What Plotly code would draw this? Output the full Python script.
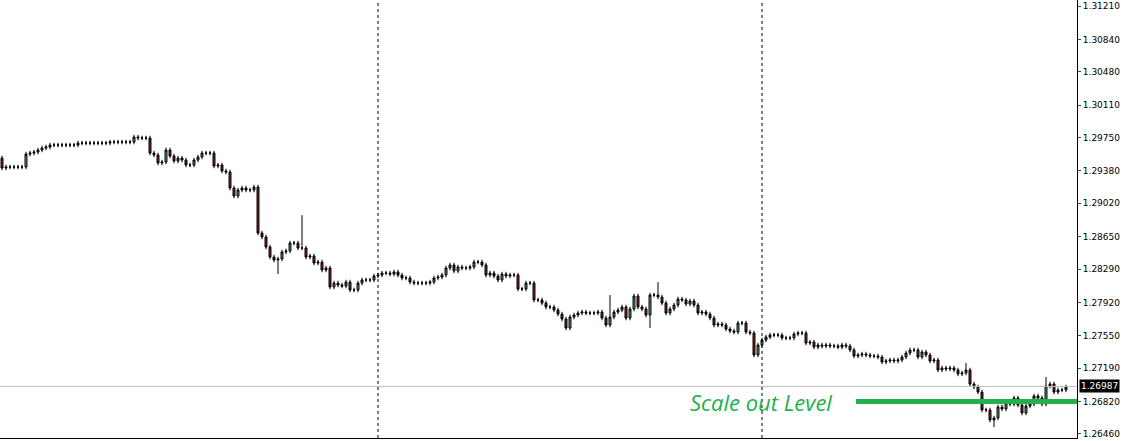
import plotly.graph_objects as go

# closing prices, one per bar (open = previous close)
close = [
    1.29412, 1.29423, 1.29423, 1.29423, 1.29423, 1.29423, 1.29567, 1.29578, 1.29589, 1.29612,
    1.29634, 1.29645, 1.29667, 1.29667, 1.29667, 1.29667, 1.29667, 1.29667, 1.29667, 1.29689,
    1.29689, 1.29689, 1.29689, 1.29689, 1.29689, 1.29689, 1.29689, 1.29700, 1.29700, 1.29700,
    1.29700, 1.29700, 1.29700, 1.29756, 1.29745, 1.29745, 1.29745, 1.29578, 1.29556, 1.29468,
    1.29479, 1.29612, 1.29545, 1.29490, 1.29523, 1.29501, 1.29445, 1.29445, 1.29501, 1.29534,
    1.29578, 1.29578, 1.29578, 1.29434, 1.29445, 1.29379, 1.29368, 1.29190, 1.29101, 1.29168,
    1.29190, 1.29168, 1.29168, 1.29201, 1.28690, 1.28646, 1.28535, 1.28424, 1.28391, 1.28402,
    1.28480, 1.28491, 1.28579, 1.28579, 1.28524, 1.28524, 1.28424, 1.28435, 1.28357, 1.28368,
    1.28280, 1.28302, 1.28091, 1.28135, 1.28113, 1.28102, 1.28146, 1.28058, 1.28058, 1.28135,
    1.28169, 1.28169, 1.28169, 1.28213,
    1.28224, 1.28246, 1.28246, 1.28235, 1.28258, 1.28224, 1.28191, 1.28191, 1.28146, 1.28135,
    1.28135, 1.28135, 1.28135, 1.28146, 1.28191, 1.28202, 1.28224, 1.28302, 1.28335, 1.28269,
    1.28313, 1.28302, 1.28302, 1.28313, 1.28368, 1.28368, 1.28335, 1.28224, 1.28246, 1.28213,
    1.28169, 1.28235, 1.28213, 1.28224, 1.28224, 1.28069, 1.28069, 1.28135, 1.28135, 1.27947,
    1.27947, 1.27913, 1.27869, 1.27869, 1.27836, 1.27791, 1.27736, 1.27636, 1.27758, 1.27780,
    1.27802, 1.27813, 1.27802, 1.27802, 1.27802, 1.27813, 1.27747, 1.27669, 1.27758, 1.27813,
    1.27836, 1.27869, 1.27747, 1.27847, 1.27991, 1.27869, 1.27847, 1.27780, 1.28002, 1.28002,
    1.27980, 1.27913, 1.27802, 1.27847, 1.27891, 1.27958, 1.27947, 1.27902, 1.27936, 1.27891,
    1.27802, 1.27813, 1.27791, 1.27747, 1.27669, 1.27680, 1.27669, 1.27625, 1.27603, 1.27591,
    1.27691, 1.27691, 1.27591, 1.27580,
    1.27336, 1.27447, 1.27503, 1.27536, 1.27558, 1.27558, 1.27558, 1.27525, 1.27525, 1.27525,
    1.27569, 1.27580, 1.27580, 1.27469, 1.27480, 1.27425, 1.27447, 1.27436, 1.27447, 1.27436,
    1.27436, 1.27425, 1.27447, 1.27436, 1.27392, 1.27325, 1.27336, 1.27347, 1.27336, 1.27325,
    1.27325, 1.27314, 1.27259, 1.27270, 1.27281, 1.27270, 1.27281, 1.27314, 1.27358, 1.27392,
    1.27392, 1.27314, 1.27369, 1.27336, 1.27270, 1.27281, 1.27170, 1.27192, 1.27181, 1.27192,
    1.27170, 1.27126, 1.27137, 1.27170, 1.27014, 1.26981, 1.26925, 1.26726, 1.26726, 1.26615,
    1.26637, 1.26759, 1.26737, 1.26803, 1.26792, 1.26859, 1.26781, 1.26693, 1.26770, 1.26792,
    1.26881, 1.26859, 1.26792, 1.26992, 1.27014, 1.26925, 1.26948, 1.26948, 1.26981,
]
first_open = 1.29523
wick = 0.00025
# notable wicks: bar index -> (high, low)
spikes = {
    69: (None, 1.28235), 75: (1.28889, None), 162: (None, 1.27636), 164: (1.28146, None),
    152: (1.28002, None), 241: (1.27248, None), 248: (None, 1.26537), 261: (1.27092, None),
}

current = 1.26987
scale_out = 1.26820
ticks = [1.31210, 1.30840, 1.30480, 1.30110, 1.29750, 1.29380, 1.29020, 1.28650,
         1.28290, 1.27920, 1.27550, 1.27190, 1.26820, 1.26460]
separators = [94, 190]
x_max = 268.75

opens = [first_open] + close[:-1]
highs, lows = [], []
for i, (o, c) in enumerate(zip(opens, close)):
    h, l = spikes.get(i, (None, None))
    highs.append(h if h else max(o, c) + wick)
    lows.append(l if l else min(o, c) - wick)
x = list(range(len(close)))

fig = go.Figure(go.Candlestick(
    x=x, open=opens, high=highs, low=lows, close=close,
    increasing=dict(line=dict(color="black", width=1), fillcolor="#5fa35f"),
    decreasing=dict(line=dict(color="black", width=1), fillcolor="#8b1c1c"),
    whiskerwidth=0, hoverinfo="skip",
))

for s in separators:
    fig.add_shape(type="line", x0=s, x1=s, y0=0, y1=1, yref="paper",
                  line=dict(color="black", width=1, dash="dot"))
fig.add_shape(type="line", x0=0, x1=1, xref="paper", y0=current, y1=current,
              line=dict(color="#c0c0c0", width=1))
fig.add_shape(type="line", x0=213.5, x1=x_max, xref="x", y0=scale_out, y1=scale_out,
              line=dict(color="#22b14c", width=5))
fig.add_annotation(x=208, y=scale_out, text="<i>Scale out Level</i>", showarrow=False,
                   xanchor="right", font=dict(family="Open Sans", size=22, color="#22b14c"))
fig.add_annotation(x=1.002, xref="paper", y=current, text="1.26987", showarrow=False,
                   xanchor="left", bgcolor="black", font=dict(color="white", size=9, family="DejaVu Sans"),
                   borderpad=1)

fig.update_layout(
    width=1125, height=441, margin=dict(l=0, r=48, t=0, b=3),
    plot_bgcolor="white", paper_bgcolor="white", showlegend=False,
    xaxis=dict(range=[-0.5, x_max], showticklabels=False, showgrid=False,
               rangeslider=dict(visible=False), showline=True, linecolor="black", mirror=True, zeroline=False),
    yaxis=dict(range=[1.26415, 1.31277], side="right", tickvals=ticks,
               ticktext=[f"{t:.5f}" for t in ticks], ticks="outside", ticklen=3,
               tickfont=dict(family="DejaVu Sans", size=9, color="black"),
               showgrid=False, showline=True, linecolor="black", mirror=True, zeroline=False),
)
fig.write_html("out.html", config={"displayModeBar": False},
               post_script="document.body.style.margin='0';")
